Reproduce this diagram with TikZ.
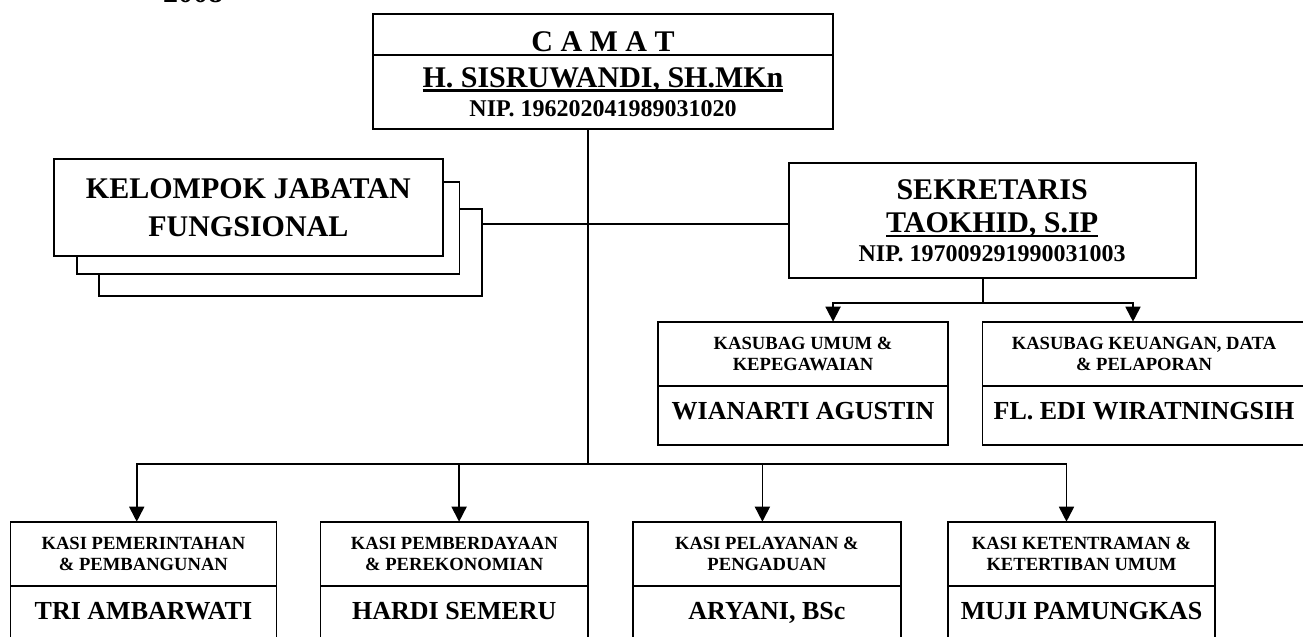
\documentclass[tikz,border=0pt]{standalone}
\usepackage{fontspec}
\setmainfont{Liberation Serif}
\usetikzlibrary{positioning,arrows.meta}

% underline close under the baseline
\newcommand{\nmline}[1]{\setbox0\hbox{#1}\rlap{\rule[-2.4pt]{\wd0}{1.2pt}}\box0}

\tikzset{
  box/.style={draw, line width=0.9pt, outer sep=0pt, inner sep=0pt, align=center, fill=white},
  bigbox/.style={box, font=\fontsize{15}{19}\selectfont\bfseries},
  kasihead/.style={box, minimum height=32pt, font=\fontsize{9.3}{10.5}\selectfont\bfseries},
  kasiname/.style={box, minimum height=29.65pt, text height=8.6pt, text depth=4pt, font=\fontsize{13}{15}\selectfont\bfseries},
  link/.style={line width=0.9pt},
  arrowlink/.style={link, -{Triangle[width=7.5pt,length=7.5pt]}}
}

\begin{document}
\begin{tikzpicture}[x=0.5pt, y=-0.5pt]
  \useasboundingbox (0,0) rectangle (1303,637);
  \clip (0,0) rectangle (1303,637);

  \node[font=\fontsize{15}{15}\selectfont\bfseries, anchor=base, inner sep=0pt] (year) at (193,3) {2008};

  % camat
  \node[bigbox, minimum width=230.3pt, minimum height=20.35pt, text height=16.8pt, text depth=0pt] (camathead) at (603,34.65) {C A M A T};
  \node[bigbox, minimum width=230.3pt, minimum height=37pt, below=0pt of camathead, font=\fontsize{15}{14.7}\selectfont\bfseries] (camatbody) {\nmline{H. SISRUWANDI, SH.MKn}\\{\fontsize{12}{12}\selectfont NIP. 196202041989031020}};

  % kelompok jabatan fungsional
  \node[box, minimum width=191.5pt, minimum height=43.65pt] (kjfc) at (290.2,252.35) {};
  \node[box, minimum width=191.35pt, minimum height=46pt] (kjfb) at (268.05,228) {};
  \node[bigbox, minimum width=194.45pt, minimum height=48.2pt] (kjfa) at (248.35,207.5) {KELOMPOK JABATAN\\FUNGSIONAL};

  % sekretaris
  \node[bigbox, minimum width=203.45pt, minimum height=57.35pt, font=\fontsize{15}{16.2}\selectfont\bfseries] (sek) at (992.15,220.65) {SEKRETARIS\\\nmline{TAOKHID, S.IP}\\[-1.7pt]{\fontsize{12}{12}\selectfont NIP. 197009291990031003}};

  % kasubag
  \node[kasihead, minimum width=144.75pt] (umumtop) at (803.05,353.7) {KASUBAG UMUM \&\\KEPEGAWAIAN};
  \node[kasiname, minimum width=144.75pt, below=0pt of umumtop] (umumname) {WIANARTI AGUSTIN};
  \node[kasihead, minimum width=161.6pt] (keutop) at (1144,353.7) {KASUBAG KEUANGAN, DATA\\\& PELAPORAN};
  \node[kasiname, minimum width=161.6pt, below=0pt of keutop] (keuname) {FL. EDI WIRATNINGSIH};

  % kasi
  \node[kasihead, minimum width=133.05pt] (pemtop) at (143.45,553.7) {KASI PEMERINTAHAN\\\& PEMBANGUNAN};
  \node[kasiname, minimum width=133.05pt, below=0pt of pemtop] (pemname) {TRI AMBARWATI};
  \node[kasihead, minimum width=133.8pt] (ekotop) at (454.3,553.7) {KASI PEMBERDAYAAN\\\& PEREKONOMIAN};
  \node[kasiname, minimum width=133.8pt, below=0pt of ekotop] (ekoname) {HARDI SEMERU};
  \node[kasihead, minimum width=134.1pt] (layantop) at (766.9,553.7) {KASI PELAYANAN \&\\PENGADUAN};
  \node[kasiname, minimum width=134.1pt, below=0pt of layantop] (layanname) {ARYANI, BSc};
  \node[kasihead, minimum width=133.7pt] (tibtop) at (1081.5,553.7) {KASI KETENTRAMAN \&\\KETERTIBAN UMUM};
  \node[kasiname, minimum width=133.7pt, below=0pt of tibtop] (tibname) {MUJI PAMUNGKAS};

  % lines
  \coordinate (trunk) at (588,464);
  \coordinate (kjfjoin) at (588,223.7);
  \coordinate (sekjoin) at (983.2,303.3);

  \draw[link] (camatbody.south -| trunk) -- (trunk);
  \draw[link] (kjfc.east |- kjfjoin) -- (sek.west |- kjfjoin);

  \draw[link] (sek.south -| sekjoin) -- (sekjoin);
  \draw[arrowlink] (sekjoin) -| ([xshift=15pt]umumtop.north);
  \draw[arrowlink] (sekjoin) -| ([xshift=-5.5pt]keutop.north);

  \draw[arrowlink] (trunk) -| ([xshift=-3.35pt]pemtop.north);
  \draw[arrowlink] (trunk) -| ([xshift=2.4pt]ekotop.north);
  \draw[arrowlink] (trunk) -| ([xshift=-2.25pt]layantop.north);
  \draw[arrowlink] (trunk) -| ([xshift=-7.5pt]tibtop.north);
\end{tikzpicture}
\end{document}
